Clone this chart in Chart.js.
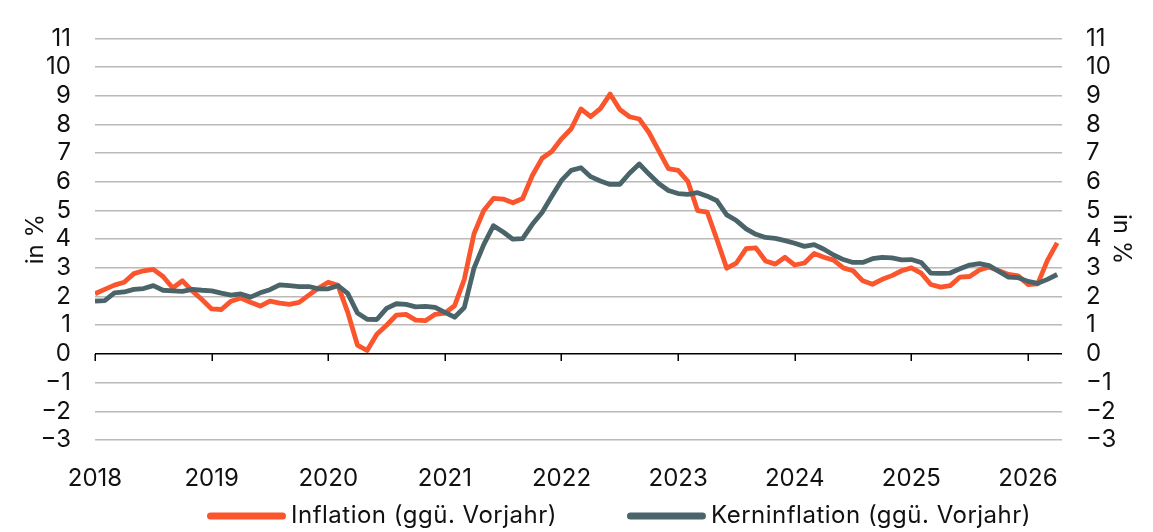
<!DOCTYPE html>
<html><head><meta charset="utf-8">
<script src="https://cdn.jsdelivr.net/npm/chart.js@4.4.1/dist/chart.umd.min.js"></script>
<style>html,body{margin:0;padding:0;background:#fff}#wrap{width:1153px;height:532px}</style>
</head><body><div id="wrap"><canvas id="c" width="1153" height="532"></canvas></div>
<script>
// Monthly data, Jan 2018 .. Apr 2026
const yearLabels = ['2018','2019','2020','2021','2022','2023','2024','2025','2026'];
const yTicks = [-3,-2,-1,0,1,2,3,4,5,6,7,8,9,10,11];
const seriesNames = ['Inflation (ggü. Vorjahr)','Kerninflation (ggü. Vorjahr)'];
const inflation = [2.1,2.25,2.4,2.5,2.8,2.9,2.95,2.7,2.3,2.55,2.2,1.9,
1.57,1.55,1.84,1.95,1.8,1.67,1.84,1.77,1.73,1.8,2.05,2.3,
2.5,2.39,1.46,0.31,0.12,0.69,1.0,1.35,1.38,1.18,1.16,1.38,
1.42,1.68,2.6,4.19,5.0,5.42,5.4,5.27,5.42,6.22,6.82,7.06,
7.5,7.85,8.54,8.27,8.55,9.06,8.52,8.27,8.19,7.72,7.09,6.46,
6.4,6.02,5.0,4.94,3.98,2.99,3.17,3.67,3.7,3.24,3.13,3.37,
3.1,3.17,3.5,3.37,3.27,3.0,2.9,2.55,2.43,2.6,2.73,2.9,
3.0,2.82,2.42,2.33,2.38,2.68,2.7,2.93,3.03,2.9,2.77,2.72,
2.42,2.44,3.26,3.87];
const core = [1.84,1.86,2.13,2.16,2.25,2.28,2.38,2.22,2.2,2.18,2.25,2.22,
2.2,2.12,2.05,2.09,1.98,2.13,2.24,2.41,2.38,2.35,2.35,2.27,
2.27,2.38,2.11,1.43,1.21,1.2,1.59,1.75,1.73,1.64,1.66,1.62,
1.45,1.28,1.62,2.99,3.81,4.47,4.25,4.0,4.02,4.52,4.93,5.5,
6.05,6.4,6.49,6.18,6.03,5.91,5.91,6.3,6.62,6.27,5.94,5.7,
5.59,5.56,5.62,5.5,5.34,4.85,4.65,4.36,4.17,4.06,4.03,3.95,
3.86,3.75,3.81,3.65,3.45,3.29,3.19,3.19,3.32,3.37,3.35,3.28,
3.29,3.19,2.82,2.81,2.82,2.97,3.1,3.15,3.08,2.88,2.68,2.66,
2.53,2.46,2.6,2.77];

const FONT = {family:'Inter', size:24};
const TXT = '#111';
const ORANGE = '#fa552c';
const DARK = '#4a646a';

const toPts = arr => arr.map((v,i)=>({x:i, y:v}));

const yearTickPlugin = {
  id:'yearTicks',
  beforeDatasetsDraw(chart){
    const {ctx, scales:{x, y}} = chart;
    const y0 = y.getPixelForValue(0);
    ctx.save();
    ctx.strokeStyle = '#000'; ctx.lineWidth = 1.5;
    x.ticks.forEach(t=>{
      const px = Math.round(x.getPixelForValue(t.value)) + 0.25;
      ctx.beginPath(); ctx.moveTo(px, y0); ctx.lineTo(px, y0+7); ctx.stroke();
    });
    ctx.restore();
  }
};

const legendPlugin = {
  id:'customLegend',
  afterDraw(chart){
    const {ctx} = chart;
    ctx.save();
    ctx.font = FONT.size + 'px ' + FONT.family;
    ctx.letterSpacing = '0.5px';
    ctx.textBaseline = 'middle';
    ctx.fillStyle = TXT;
    let x = 207; const y = 516;
    chart.data.datasets.forEach(ds=>{
      ctx.strokeStyle = ds.borderColor; ctx.lineWidth = 7; ctx.lineCap = 'round';
      ctx.beginPath(); ctx.moveTo(x+3.5, y); ctx.lineTo(x+79-3.5, y); ctx.stroke();
      ctx.fillText(ds.label, x+84, y);
      x += 84 + ctx.measureText(ds.label).width + 70;
    });
    ctx.restore();
  }
};

new Chart(document.getElementById('c'), {
  type:'line',
  data:{
    datasets:[
      {label:seriesNames[0], data:toPts(inflation), borderColor:ORANGE, borderWidth:4.8, pointRadius:0, tension:0, borderJoinStyle:'round', order:1},
      {label:seriesNames[1], data:toPts(core), borderColor:DARK, borderWidth:4.8, pointRadius:0, tension:0, borderJoinStyle:'round', order:0}
    ]
  },
  plugins:[yearTickPlugin, legendPlugin],
  options:{
    responsive:false, animation:false, devicePixelRatio:1,
    layout:{padding:{top:16, bottom:42, left:0, right:0}},
    plugins:{legend:{display:false}, tooltip:{enabled:false}},
    scales:{
      x:{type:'linear', min:0, max:99.5,
        grid:{display:false}, border:{display:false},
        afterBuildTicks: s => { s.ticks = yearLabels.map((l,i)=>({value:i*12})); },
        ticks:{callback:(v)=>yearLabels[Math.round(v/12)], padding:16, font:FONT, color:TXT, maxRotation:0, autoSkip:false},
        afterFit: s => { s.height = 50; }
      },
      y:{position:'left', min:-3, max:11,
        afterBuildTicks: s => { s.ticks = yTicks.map(v=>({value:v})); },
        ticks:{padding:24, font:FONT, color:TXT, autoSkip:false, callback:v=>String(v).replace('-','\u2212')},
        grid:{color:c=>c.tick && c.tick.value===0 ? '#000' : '#bdb9b6', lineWidth:1.6, drawTicks:false},
        border:{display:false},
        title:{display:true, text:'in %', font:FONT, color:TXT, padding:{top:21, bottom:0}},
        afterFit: s => { s.width = 95; }
      },
      y2:{position:'right', min:-3, max:11,
        afterBuildTicks: s => { s.ticks = yTicks.map(v=>({value:v})); },
        ticks:{padding:24, font:FONT, color:TXT, autoSkip:false, callback:v=>String(v).replace('-','\u2212')},
        grid:{display:false, drawTicks:false},
        border:{display:false},
        title:{display:true, text:'in %', font:FONT, color:TXT, padding:{top:17, bottom:0}},
        afterFit: s => { s.width = 91; }
      }
    }
  }
});
</script></body></html>
